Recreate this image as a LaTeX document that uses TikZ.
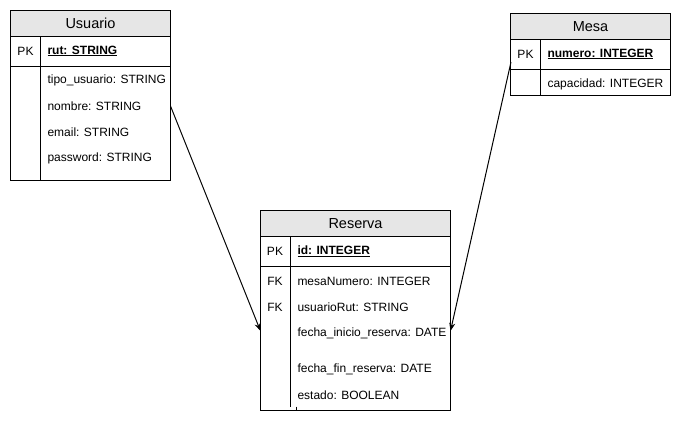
\documentclass[tikz,border=0pt]{standalone}
\usepackage{fontspec}
\setmainfont{Liberation Sans}
\usepackage{xcolor}
\usepackage{tikz}
\usetikzlibrary{arrows.meta, positioning}
\definecolor{hdrgray}{RGB}{230,230,230}

\begin{document}
\begin{tikzpicture}[x=1pt, y=-1pt, line width=1pt,
    title/.style={inner sep=0pt, font=\fontsize{14.5}{16}\selectfont},
    field/.style={anchor=west, inner sep=0pt, font=\fontsize{12}{14}\selectfont},
    keyfield/.style={field, font=\fontsize{12}{14}\selectfont\bfseries},
    tag/.style={inner sep=0pt, font=\fontsize{12}{14}\selectfont},
    fk/.style={-{Stealth[length=8pt, width=6pt]}}]
    \useasboundingbox (0,0) rectangle (681,421);

    % Usuario
    \filldraw[fill=hdrgray] (10.5,10.5) rectangle (170.5,36.5);
    \draw (10.5,10.5) rectangle (170.5,180.5);
    \draw (10.5,66.5) -- (170.5,66.5);
    \draw (40.5,36.5) -- (40.5,180.5);
    \node[title] (usuario) at (90.5,23.5) {Usuario};
    \node[tag] (usuarioPK) at (25.5,51) {PK};
    \node[keyfield] (rut) at (47,51) {\underline{rut: STRING}};
    \node[field] (tipo) at (47,80.5) {tipo\_usuario: STRING};
    \node[field] (nombre) at (47,106.5) {nombre: STRING};
    \node[field] (email) at (47,132.5) {email: STRING};
    \node[field] (password) at (47,158.5) {password: STRING};

    % Mesa
    \filldraw[fill=hdrgray] (510.5,13.5) rectangle (670.5,39.5);
    \draw (510.5,13.5) rectangle (670.5,95.5);
    \draw (510.5,69.5) -- (670.5,69.5);
    \draw (540.5,39.5) -- (540.5,95.5);
    \node[title] (mesa) at (590.5,26.5) {Mesa};
    \node[tag] (mesaPK) at (525.5,54) {PK};
    \node[keyfield] (numero) at (547,54) {\underline{numero: INTEGER}};
    \node[field] (capacidad) at (547,84) {capacidad: INTEGER};

    % Reserva
    \filldraw[fill=hdrgray] (260.5,210.5) rectangle (450.5,236.5);
    \draw (260.5,210.5) rectangle (450.5,410.5);
    \draw (260.5,266.5) -- (450.5,266.5);
    \draw (290.5,236.5) -- (290.5,406.5);
    \draw (296.5,406.5) -- (296.5,410.5);
    \node[title] (reserva) at (355.5,223.5) {Reserva};
    \node[tag] (reservaPK) at (275,251) {PK};
    \node[keyfield] (id) at (297,251) {\underline{id: INTEGER}};
    \node[tag] (fkMesa) at (275,281) {FK};
    \node[field] (mesaNumero) at (297,281) {mesaNumero: INTEGER};
    \node[tag] (fkUsuario) at (275,307) {FK};
    \node[field] (usuarioRut) at (297,307) {usuarioRut: STRING};
    \node[field] (inicio) at (297,333) {fecha\_inicio\_reserva: DATE};
    \node[field] (fin) at (297,369) {fecha\_fin\_reserva: DATE};
    \node[field] (estado) at (297,395) {estado: BOOLEAN};

    % relaciones
    \coordinate (usuarioOut) at (170.5,106);
    \coordinate (mesaOut) at (511,62);
    \coordinate (reservaInL) at (260.5,331);
    \coordinate (reservaInR) at (450.5,331);
    \draw[fk] (usuarioOut) -- (reservaInL);
    \draw[fk] (mesaOut) -- (reservaInR);
\end{tikzpicture}
\end{document}
